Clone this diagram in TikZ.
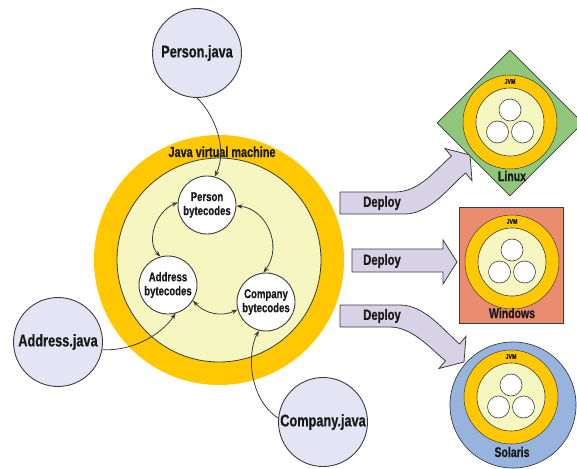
\documentclass[tikz,border=0pt]{standalone}
\usepackage{fontspec}
\newfontfamily\cond{Liberation Sans}[FakeStretch=0.75,FakeBold=0.6]
\usetikzlibrary{arrows.meta,shapes.geometric}
\definecolor{jvmgold}{RGB}{255,200,0}
\definecolor{jvmpale}{RGB}{246,246,192}
\definecolor{javalav}{RGB}{228,228,245}
\definecolor{deployfill}{RGB}{216,210,230}
\definecolor{linuxgreen}{RGB}{145,198,125}
\definecolor{winsalmon}{RGB}{233,140,112}
\definecolor{solblue}{RGB}{150,180,222}
\definecolor{edge}{RGB}{60,60,60}
\definecolor{ink}{RGB}{25,25,25}
\tikzset{
  javafile/.style={circle, draw=edge, line width=0.9pt, fill=javalav, minimum size=89pt, inner sep=0pt, text=ink, font=\cond\bfseries\fontsize{17}{17}\selectfont},
  bytecode/.style={circle, draw=edge, line width=0.9pt, fill=white, minimum size=58pt, inner sep=0pt, align=center, text=ink, font=\cond\bfseries\fontsize{12.8}{14}\selectfont},
  link/.style={draw=edge, line width=0.8pt, -{Stealth[length=6pt,width=4.5pt]}},
  biarrow/.style={draw=edge, line width=0.8pt, {Stealth[length=6pt,width=4.5pt]}-{Stealth[length=6pt,width=4.5pt]}},
  deployarrow/.style={draw=edge, line width=0.8pt, fill=deployfill, line join=miter},
  deploytext/.style={inner sep=0pt, text=ink, font=\cond\bfseries\fontsize{15}{15}\selectfont},
  platname/.style={inner sep=0pt, text=ink, font=\cond\bfseries\fontsize{14}{14}\selectfont},
  minib/.style={circle, draw=edge, line width=0.6pt, fill=white, minimum size=22pt, inner sep=0pt},
  minijvm/.pic={
    \node[circle, draw=edge, line width=0.5pt, fill=jvmgold, minimum size=94pt, inner sep=0pt] (-gold) at (0,0) {};
    \node[circle, draw=edge, line width=0.6pt, fill=jvmpale, minimum size=68pt, inner sep=0pt] (-pale) at (0,0) {};
    \node[minib] (-a) at (0,-12) {};
    \node[minib] (-b) at (-12.5,10) {};
    \node[minib] (-c) at (12.5,10) {};
    \node[inner sep=0pt, text=ink, font=\cond\bfseries\fontsize{7}{7}\selectfont] (-lbl) at (0,-40.5) {JVM};
  }
}
\begin{document}
\begin{tikzpicture}[x=1pt,y=-1pt]
\useasboundingbox (0,0) rectangle (577,468);

% main JVM
\node[circle, fill=jvmgold, minimum size=250pt, inner sep=0pt] (jvm) at (219,260) {};
\node[circle, draw=edge, line width=0.8pt, fill=jvmpale, minimum size=204pt, inner sep=0pt] (jvmin) at (219,260) {};
\node[anchor=base, inner sep=0pt, text=ink, font=\cond\bfseries\fontsize{14.5}{14.5}\selectfont] (jvmlbl) at (222,157) {Java virtual machine};

% bytecodes
\node[bytecode] (pb) at (207,205) {Person\\bytecodes};
\node[bytecode] (ab) at (168,285) {Address\\bytecodes};
\node[bytecode] (cb) at (266,302) {Company\\bytecodes};

% java files
\node[javafile] (pj) at (197,53) {Person.java};
\node[javafile] (aj) at (58,342) {Address.java};
\node[javafile] (cj) at (323,422) {Company.java};

% connectors
\draw[link] (pj.south) .. controls (215,115) and (228,150) .. (pb.75);
\draw[link] (aj.-10) .. controls (132,351) and (160,336) .. (ab.-75);
\draw[link] (cj.175) .. controls (250,400) and (246,355) .. (cb.-104);
\draw[biarrow] (pb.175) .. controls (155,212) and (146,242) .. (ab.105);
\draw[biarrow] (pb.-2) .. controls (265,208) and (284,245) .. (cb.95);
\draw[biarrow] (ab.-32) .. controls (205,314) and (222,317) .. (cb.195);

% deploy arrows
\draw[deployarrow] (340,192) -- (395,192) .. controls (420,192) and (436,169) .. (451.4,156.2)
  -- (445,148.5) -- (470,155) -- (472,180.7) -- (465.6,173)
  .. controls (450,186) and (430,214) .. (405,214) -- (340,214) -- cycle;
\node[deploytext] (dep1) at (382,203) {Deploy};
\draw[deployarrow] (352,249) -- (443,249) -- (443,240) -- (457,262) -- (443,284) -- (443,272) -- (352,272) -- cycle;
\node[deploytext] (dep2) at (382,261) {Deploy};
\draw[deployarrow] (340,305) -- (400,305) .. controls (425,305) and (444,331) .. (459.6,344)
  -- (466,336.3) -- (464,362) -- (439,368.5) -- (445.4,360.8)
  .. controls (430,348) and (412,327) .. (390,327) -- (340,327) -- cycle;
\node[deploytext] (dep3) at (382,316) {Deploy};

% Linux
\node[diamond, draw=edge, line width=0.7pt, fill=linuxgreen, minimum width=146pt, minimum height=146pt, inner sep=0pt] (lin) at (510,123) {};
\pic (linjvm) at (510,122) {minijvm};
\node[platname] (linlbl) at (512,176) {Linux};

% Windows
\node[rectangle, draw=edge, line width=0.7pt, fill=winsalmon, minimum width=104pt, minimum height=116pt, inner sep=0pt] (win) at (511,265) {};
\pic (winjvm) at (512,262) {minijvm};
\node[platname] (winlbl) at (512,313) {Windows};

% Solaris
\node[circle, draw=edge, line width=0.7pt, fill=solblue, minimum size=126pt, inner sep=0pt] (sol) at (513,405) {};
\pic (soljvm) at (511,397) {minijvm};
\node[platname] (sollbl) at (512,452) {Solaris};
\end{tikzpicture}
\end{document}
